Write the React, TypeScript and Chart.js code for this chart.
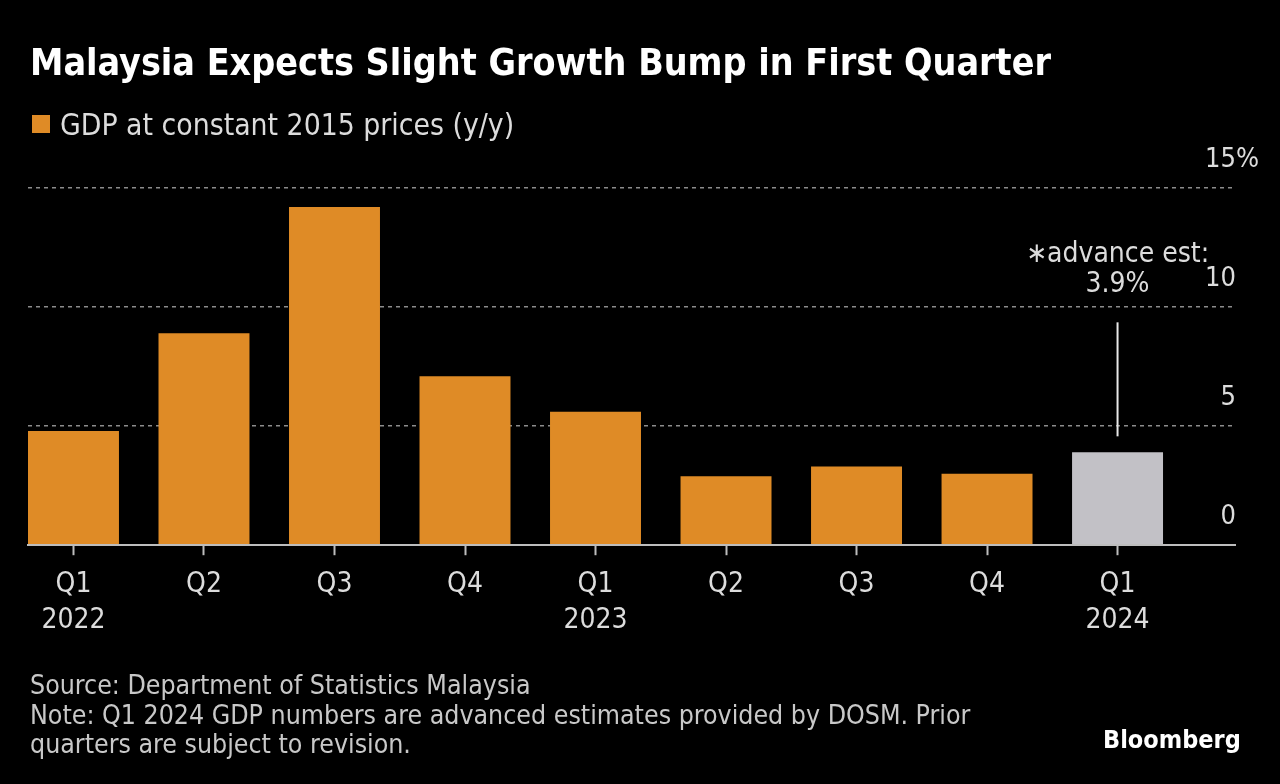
import React, { useEffect, useRef } from 'react';
import { Chart, registerables } from 'chart.js';

Chart.register(...registerables);

const QUARTERS = ['Q1', 'Q2', 'Q3', 'Q4', 'Q1', 'Q2', 'Q3', 'Q4', 'Q1'];
const YEARS = ['2022', '', '', '', '2023', '', '', '', '2024'];
const GDP_GROWTH = [4.8, 8.9, 14.2, 7.1, 5.6, 2.9, 3.3, 3.0, 3.9];
const IS_ADVANCE_ESTIMATE = [false, false, false, false, false, false, false, false, true];
const Y_TICKS = [0, 5, 10, 15];
const ANNOTATION_LINES = ['\u2217advance est:', '3.9%'];

const TITLE = 'Malaysia Expects Slight Growth Bump in First Quarter';
const LEGEND_LABEL = 'GDP at constant 2015 prices (y/y)';
const FOOTER_LINES = [
  'Source: Department of Statistics Malaysia',
  'Note: Q1 2024 GDP numbers are advanced estimates provided by DOSM. Prior',
  'quarters are subject to revision.',
];

const ORANGE = '#DF8B26';
const GREY = '#C2C1C6';
const TEXT = '#DCDCDC';
const FONT = '"Liberation Sans Narrow", "DejaVu Sans Condensed", "DejaVu Sans", sans-serif';

const BAR_FRACTION = 0.697;

const yLabelsPlugin = {
  id: 'yLabels',
  afterDraw(chart: any) {
    const y = chart.scales.y;
    const ctx = chart.ctx;
    const xr = chart.chartArea.right + 1;
    ctx.save();
    ctx.font = `27px ${FONT}`;
    ctx.fillStyle = TEXT;
    ctx.textBaseline = 'middle';
    y.ticks.forEach((t: any, i: number) => {
      const py = y.getPixelForValue(t.value) - 28;
      ctx.textAlign = 'right';
      ctx.fillText(String(t.value), xr, py);
      if (i === y.ticks.length - 1) {
        ctx.textAlign = 'left';
        ctx.fillText('%', xr, py);
      }
    });
    ctx.restore();
  },
};

const annotationPlugin = {
  id: 'advanceAnnotation',
  afterDatasetsDraw(chart: any) {
    const meta = chart.getDatasetMeta(0);
    const idx = IS_ADVANCE_ESTIMATE.indexOf(true);
    if (idx < 0) return;
    const bar = meta.data[idx];
    const ctx = chart.ctx;
    ctx.save();
    ctx.strokeStyle = '#E8E8E8';
    ctx.lineWidth = 2;
    ctx.beginPath();
    ctx.moveTo(bar.x, bar.y - 16);
    ctx.lineTo(bar.x, bar.y - 130);
    ctx.stroke();
    ctx.font = `28px ${FONT}`;
    ctx.fillStyle = TEXT;
    ctx.textAlign = 'center';
    ctx.textBaseline = 'middle';
    ctx.fillText(ANNOTATION_LINES[0], bar.x, bar.y - 198);
    ctx.fillText(ANNOTATION_LINES[1], bar.x, bar.y - 168);
    ctx.restore();
  },
};

export default function App() {
  const ref = useRef<HTMLCanvasElement>(null);

  useEffect(() => {
    document.body.style.margin = '0';
    document.body.style.background = '#000';
    const chart = new Chart(ref.current as HTMLCanvasElement, {
      type: 'bar',
      data: {
        datasets: [
          {
            label: LEGEND_LABEL,
            data: GDP_GROWTH.map((v, i) => ({ x: i, y: v })),
            backgroundColor: IS_ADVANCE_ESTIMATE.map((a) => (a ? GREY : ORANGE)),
            borderWidth: 0,
            barPercentage: 1,
            categoryPercentage: BAR_FRACTION,
          },
        ],
      },
      options: {
        animation: false,
        responsive: false,
        devicePixelRatio: 1,
        layout: { padding: { left: 28, right: 45, top: 188, bottom: 134 } },
        plugins: {
          legend: { display: false },
          title: { display: false },
          tooltip: { enabled: false },
        },
        scales: {
          x: {
            type: 'linear',
            offset: false,
            min: -BAR_FRACTION / 2,
            max: 8.9,
            afterBuildTicks: (scale: any) => {
              scale.ticks = QUARTERS.map((_, i) => ({ value: i }));
            },
            ticks: {
              autoSkip: false,
              maxRotation: 0,
              padding: 11,
              color: TEXT,
              font: { family: FONT, size: 28, lineHeight: 1.3 },
              callback: (value: any) => {
                const i = Math.round(Number(value));
                return YEARS[i] ? [QUARTERS[i], YEARS[i]] : QUARTERS[i];
              },
            },
            grid: {
              offset: false,
              drawOnChartArea: false,
              tickLength: 10,
              tickWidth: 2,
              tickColor: '#BDBDBD',
            },
            border: { display: true, color: '#BDBDBD', width: 2, z: 1 },
          },
          y: {
            position: 'right',
            min: 0,
            max: 15,
            afterBuildTicks: (scale: any) => {
              scale.ticks = Y_TICKS.map((v) => ({ value: v }));
            },
            ticks: { display: false },
            grid: { color: '#8C8C8C', lineWidth: 1.5, drawTicks: false },
            border: { display: false, dash: [4, 4] },
          },
        },
      },
      plugins: [yLabelsPlugin, annotationPlugin],
    } as any);
    return () => chart.destroy();
  }, []);

  return (
    <div
      style={{
        position: 'relative',
        width: 1280,
        height: 784,
        background: '#000',
        overflow: 'hidden',
        fontFamily: FONT,
      }}
    >
      <canvas ref={ref} width={1280} height={784} style={{ position: 'absolute', left: 0, top: 0 }} />
      <div
        style={{
          position: 'absolute',
          left: 30,
          top: 42,
          fontSize: 37.3,
          lineHeight: '40px',
          fontWeight: 'bold',
          color: '#FFFFFF',
          whiteSpace: 'nowrap',
        }}
      >
        {TITLE}
      </div>
      <div
        style={{
          position: 'absolute',
          left: 32,
          top: 107,
          display: 'flex',
          alignItems: 'center',
          height: 34,
          whiteSpace: 'nowrap',
        }}
      >
        <span style={{ width: 18, height: 18, background: ORANGE, display: 'inline-block', marginRight: 10 }} />
        <span style={{ fontSize: 29.8, color: TEXT }}>{LEGEND_LABEL}</span>
      </div>
      <div
        style={{
          position: 'absolute',
          left: 30,
          top: 670,
          fontSize: 26.5,
          lineHeight: '29.5px',
          color: '#C8C8C8',
          whiteSpace: 'nowrap',
        }}
      >
        {FOOTER_LINES.map((l, i) => (
          <div key={i}>{l}</div>
        ))}
      </div>
      <div
        style={{
          position: 'absolute',
          left: 1103,
          top: 725,
          fontSize: 25,
          lineHeight: '30px',
          fontWeight: 'bold',
          color: '#FFFFFF',
          whiteSpace: 'nowrap',
        }}
      >
        Bloomberg
      </div>
    </div>
  );
}
